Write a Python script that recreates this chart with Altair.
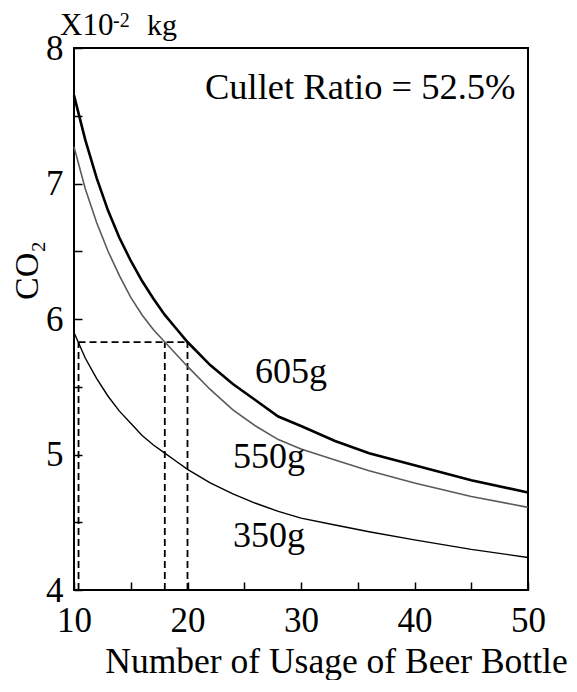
import altair as alt
import pandas as pd

# ---- data ----
usage = [10, 11, 12, 13, 14, 15, 16, 17, 18, 19, 20, 22, 24, 26, 28, 30, 33, 36, 40, 45, 50]
co2_605 = [7.65, 7.32, 7.04, 6.80, 6.60, 6.43, 6.28, 6.15, 6.03, 5.93, 5.83, 5.66, 5.52, 5.40,
           5.28, 5.21, 5.10, 5.01, 4.92, 4.81, 4.72]
co2_550 = [7.27, 6.96, 6.71, 6.50, 6.32, 6.16, 6.03, 5.92, 5.83, 5.74, 5.65, 5.48, 5.33, 5.21,
           5.11, 5.04, 4.96, 4.88, 4.79, 4.69, 4.61]
co2_350 = [5.90, 5.71, 5.56, 5.43, 5.32, 5.23, 5.14, 5.07, 5.01, 4.95, 4.89, 4.79, 4.71, 4.64,
           4.58, 4.53, 4.48, 4.43, 4.37, 4.30, 4.24]
bottles = ["605g", "550g", "350g"]

guide_level = 5.83
guide_usage = [10.4, 18, 20]

x_ticks = [10, 15, 20, 25, 30, 35, 40, 45, 50]
y_ticks = [4, 4.5, 5, 5.5, 6, 6.5, 7, 7.5, 8]

label_usage = [25.95, 24.0, 24.0]
label_co2 = [5.53, 4.90, 4.32]

note_text = "Cullet Ratio = 52.5%"
note_usage = 48.9
note_co2 = 7.62

FONT = "Liberation Serif"

rows = []
for name, vals in zip(bottles, [co2_605, co2_550, co2_350]):
    for u, v in zip(usage, vals):
        rows.append({"usage": u, "co2": v, "bottle": name})
df = pd.DataFrame(rows)

x_axis = alt.Axis(
    values=x_ticks, labelExpr="datum.value % 10 === 0 ? format(datum.value, 'd') : ''",
    offset=-8, domain=False, tickSize=8, tickWidth=1.5, tickColor="black",
    labelFont=FONT, labelFontSize=35, labelColor="black", labelPadding=13,
    labelFlush=False, labelOverlap=False, grid=False,
    title="Number of Usage of Beer Bottle", titleFont=FONT, titleFontSize=35.5,
    titleFontWeight="normal", titleColor="black",
    titleX=262, titleY=90, titleBaseline="alphabetic", titleAlign="center",
)
y_axis = alt.Axis(
    values=y_ticks, labelExpr="datum.value % 1 === 0 ? format(datum.value, 'd') : ''",
    offset=-8, domain=False, tickSize=8, tickWidth=1.5, tickColor="black",
    labelFont=FONT, labelFontSize=35, labelColor="black", labelPadding=11,
    labelFlush=False, labelOverlap=False, grid=False,
    title="CO₂", titleFont=FONT, titleFontSize=34, titleFontWeight="normal",
    titleColor="black", titleX=-55, titleY=222, titleAngle=270,
    titleAlign="center", titleBaseline="middle",
)
x_scale = alt.Scale(domain=[10, 50], nice=False, zero=False)
y_scale = alt.Scale(domain=[4, 8], nice=False, zero=False)


def X(field="usage:Q"):
    return alt.X(field, scale=x_scale, axis=x_axis)


def Y(field="co2:Q"):
    return alt.Y(field, scale=y_scale, axis=y_axis)


base = alt.Chart(df)
line605 = base.transform_filter(alt.datum.bottle == bottles[0]).mark_line(
    color="black", strokeWidth=2.6).encode(x=X(), y=Y())
line550 = base.transform_filter(alt.datum.bottle == bottles[1]).mark_line(
    color="#5a5a5a", strokeWidth=1.6).encode(x=X(), y=Y())
line350 = base.transform_filter(alt.datum.bottle == bottles[2]).mark_line(
    color="black", strokeWidth=1.4).encode(x=X(), y=Y())

hdash = alt.Chart(pd.DataFrame({"usage": [guide_usage[0]], "co2": [guide_level]})).mark_rule(
    color="black", strokeWidth=1.8, strokeDash=[7, 4]).encode(
    x=X(), x2=alt.datum(guide_usage[-1]), y=Y())
vdash = alt.Chart(pd.DataFrame({"usage": guide_usage, "co2": [4] * len(guide_usage)})).mark_rule(
    color="black", strokeWidth=1.8, strokeDash=[7, 4]).encode(
    x=X(), y=Y(), y2=alt.datum(guide_level))

labels = alt.Chart(pd.DataFrame({"usage": label_usage, "co2": label_co2, "bottle": bottles})).mark_text(
    font=FONT, fontSize=36, align="left", baseline="alphabetic", color="black").encode(
    x=X(), y=Y(), text="bottle:N")

note = alt.Chart(pd.DataFrame({"usage": [note_usage], "co2": [note_co2], "t": [note_text]})).mark_text(
    font=FONT, fontSize=36.5, align="right", baseline="alphabetic", color="black").encode(
    x=X(), y=Y(), text="t:N")

corner = pd.DataFrame({"usage": [10], "co2": [8]})
unit1 = alt.Chart(corner).mark_text(font=FONT, fontSize=31, align="left", baseline="alphabetic",
                                    color="black", dx=-14, dy=-13, text="X10").encode(x=X(), y=Y())
unit2 = alt.Chart(corner).mark_text(font=FONT, fontSize=20, align="left", baseline="alphabetic",
                                    color="black", dx=39, dy=-21, text="-2").encode(x=X(), y=Y())
unit3 = alt.Chart(corner).mark_text(font=FONT, fontSize=30, align="left", baseline="alphabetic",
                                    color="black", dx=73, dy=-13, text="kg").encode(x=X(), y=Y())

chart = alt.layer(vdash, hdash, line350, line550, line605, labels, note, unit1, unit2, unit3).properties(
    width=454, height=542,
    autosize=alt.AutoSizeParams(type="none"),
    padding={"left": 66, "top": 40, "right": 41, "bottom": 90},
    background="white",
).configure_view(stroke="black", strokeWidth=2)

chart.save("out.html", embed_options={"renderer": "svg", "actions": False})
